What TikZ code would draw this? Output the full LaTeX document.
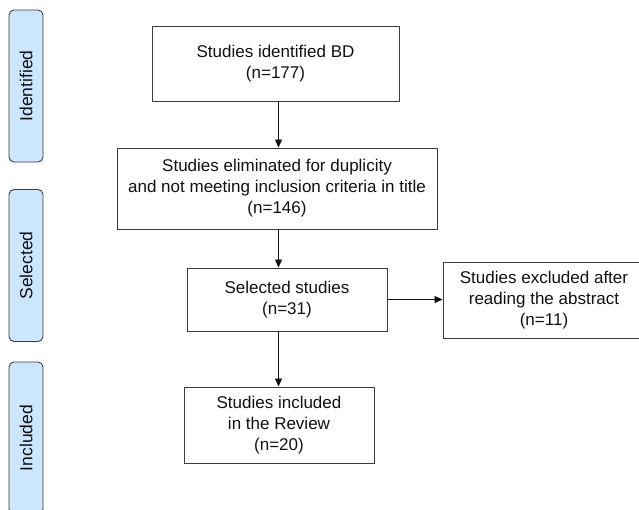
\documentclass[tikz,border=0pt]{standalone}
\usepackage{fontspec}
\setmainfont{Liberation Sans}
\usepackage{xcolor}
\usetikzlibrary{arrows.meta}
\definecolor{stagefill}{HTML}{CCE6FF}
\definecolor{edge}{HTML}{3C3C3C}
\definecolor{ink}{HTML}{111111}
\tikzset{
  box/.style={draw=edge, line width=0.9pt, fill=white, align=center, inner sep=0pt,
    text=ink, font=\fontsize{17}{21}\selectfont},
  stagebox/.style={draw=edge, line width=0.9pt, fill=stagefill, rounded corners=5pt,
    rotate=90, minimum width=152pt, minimum height=34pt, inner sep=0pt,
    text=ink, font=\fontsize{17.5}{18}\selectfont},
  flow/.style={-{Triangle[length=8pt,width=7pt]}, draw=ink, line width=0.8pt}
}

\begin{document}
\begin{tikzpicture}[x=1pt, y=-1pt]
  \useasboundingbox (0,0) rectangle (639,509);
  \clip (0,0) rectangle (639,509);

  % stages
  \node[stagebox] (identified) at (26,86)    {Identified};
  \node[stagebox] (selected)   at (26,265.5) {Selected};
  \node[stagebox] (included)   at (26,438)   {Included};

  % boxes
  \node[box, minimum width=247pt, minimum height=75pt] (ident) at (275.5,63.5)
    {Studies identified BD\\(n=177)};
  \node[box, minimum width=320pt, minimum height=81pt] (elim) at (277,188.5)
    {Studies eliminated for duplicity\\and not meeting inclusion criteria in title\\(n=146)};
  \node[box, minimum width=200pt, minimum height=63pt] (sel) at (287,299.5)
    {Selected studies\\(n=31)};
  \node[box, minimum width=202pt, minimum height=76pt] (excl) at (544,300)
    {Studies excluded after\\reading the abstract\\(n=11)};
  \node[box, minimum width=190pt, minimum height=76pt] (incl) at (279,425)
    {Studies included\\in the Review\\(n=20)};

  % arrows
  \coordinate (col) at (278.5,0);
  \draw[flow] (ident.south -| col) -- (elim.north -| col);
  \draw[flow] (elim.south -| col) -- (sel.north -| col);
  \draw[flow] (sel.south -| col) -- (incl.north -| col);
  \draw[flow] (sel.east) -- (excl.west |- sel.east);
\end{tikzpicture}
\end{document}
